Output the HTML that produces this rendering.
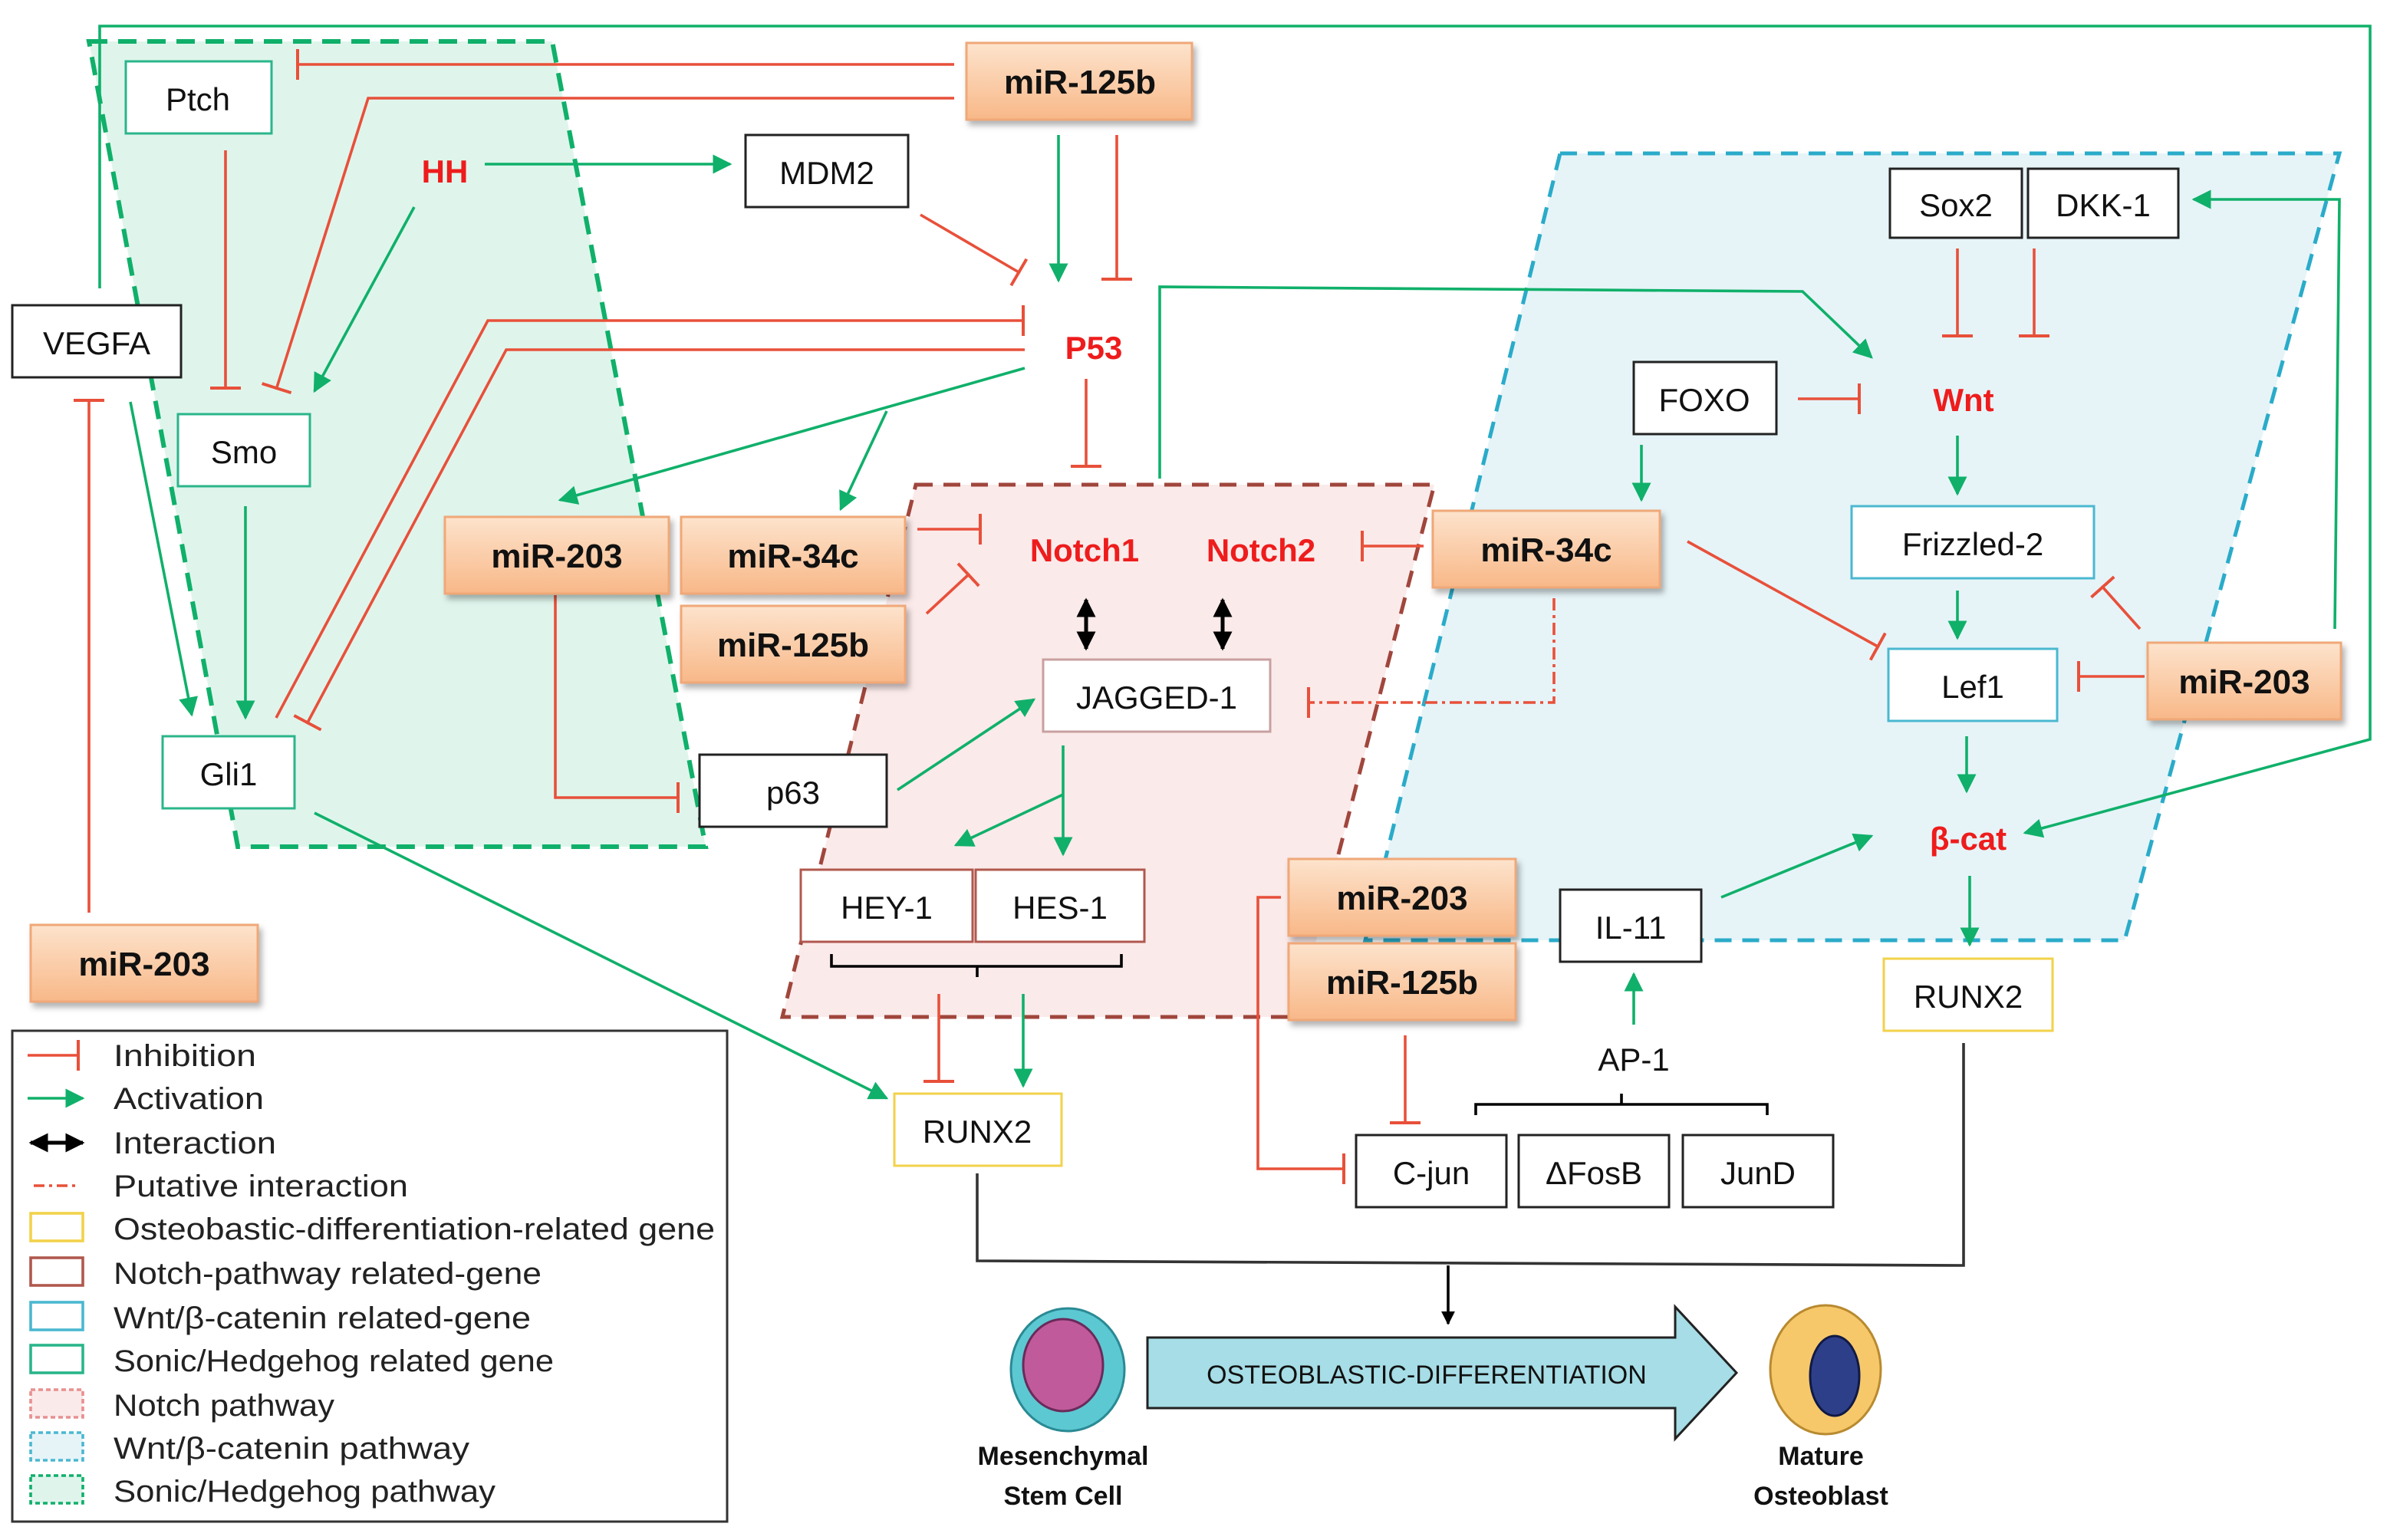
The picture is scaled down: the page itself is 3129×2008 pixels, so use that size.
<!DOCTYPE html>
<html><head><meta charset="utf-8"><style>html,body{margin:0;padding:0;background:#fff}svg{display:block}text{font-family:"Liberation Sans",sans-serif}</style></head><body>
<svg width="3129" height="2008" viewBox="0 0 1564.5 1004" xmlns="http://www.w3.org/2000/svg">
<defs>
<marker id="ga" viewBox="0 0 10 10" refX="9" refY="5" markerWidth="7" markerHeight="7" orient="auto"><path d="M0,0L10,5L0,10z" fill="#10b06a"/></marker>
<marker id="ri" viewBox="0 0 4 20" refX="2" refY="10" markerWidth="4" markerHeight="20" markerUnits="userSpaceOnUse" orient="auto"><rect x="0" y="0" width="2" height="20" fill="#e8503a"/></marker>
<marker id="ba" viewBox="0 0 10 10" refX="9" refY="5" markerWidth="5" markerHeight="5" orient="auto"><path d="M0,0L10,5L0,10z" fill="#000"/></marker>
<marker id="bs" viewBox="0 0 10 10" refX="1" refY="5" markerWidth="5" markerHeight="5" orient="auto"><path d="M10,0L0,5L10,10z" fill="#000"/></marker>
<linearGradient id="og" x1="0" y1="0" x2="0" y2="1"><stop offset="0" stop-color="#fde3cc"/><stop offset="1" stop-color="#f8b888"/></linearGradient>
<filter id="sh"><feDropShadow dx="2" dy="3" stdDeviation="2" flood-opacity="0.3"/></filter>
</defs>
<polygon points="58,27 360,27 460,552 155,552" fill="#dff5ec" stroke="#10b06a" stroke-width="3" stroke-dasharray="12,7"/>
<polygon points="597,316 935,316 845,663 510,663" fill="#fbeaea" stroke="#a0463c" stroke-width="2.5" stroke-dasharray="11,7"/>
<polygon points="1017,100 1525,100 1385,613 890,613" fill="#e6f4f8" stroke="#2aabc9" stroke-width="2.5" stroke-dasharray="11,7"/>

<g fill="none" stroke-width="1.8">
<g stroke="#10b06a" marker-end="url(#ga)">
<polyline points="65,188 65,17 1545,17 1545,482 1320,543"/>
<line x1="316" y1="107" x2="476" y2="107"/>
<line x1="270" y1="135" x2="205" y2="255"/>
<line x1="690" y1="88" x2="690" y2="183"/>
<line x1="85" y1="262" x2="125" y2="466"/>
<line x1="160" y1="330" x2="160" y2="468"/>
<line x1="668" y1="240" x2="365" y2="326"/>
<line x1="578" y1="268" x2="548" y2="332"/>
<line x1="205" y1="530" x2="578" y2="716"/>
<line x1="585" y1="515" x2="674" y2="456"/>
<line x1="693" y1="486" x2="693" y2="557"/>
<line x1="693" y1="518" x2="623" y2="551"/>
<line x1="667" y1="648" x2="667" y2="708"/>
<polyline points="756,312 756,187 1175,190 1220,233"/>
<line x1="1070" y1="290" x2="1070" y2="326"/>
<line x1="1276" y1="284" x2="1276" y2="322"/>
<line x1="1276" y1="385" x2="1276" y2="416"/>
<line x1="1282" y1="480" x2="1282" y2="516"/>
<line x1="1284" y1="571" x2="1284" y2="616"/>
<line x1="1122" y1="585" x2="1220" y2="545"/>
<line x1="1065" y1="668" x2="1065" y2="635"/>
<polyline points="1522,410 1525,130 1430,130"/>
</g>
<g stroke="#e8503a" marker-end="url(#ri)">
<line x1="622" y1="42" x2="193" y2="42"/>
<polyline points="622,64 240,64 180,254"/>
<line x1="147" y1="98" x2="147" y2="254"/>
<line x1="728" y1="88" x2="728" y2="183"/>
<line x1="600" y1="140" x2="665" y2="178"/>
<polyline points="180,468 318,209 668,209"/>
<polyline points="668,228 330,228 200,472"/>
<line x1="708" y1="247" x2="708" y2="305"/>
<line x1="598" y1="345" x2="640" y2="345"/>
<line x1="604" y1="400" x2="632" y2="374"/>
<polyline points="362,388 362,520 443,520"/>
<line x1="58" y1="595" x2="58" y2="260"/>
<line x1="928" y1="356" x2="887" y2="356"/>
<line x1="1172" y1="260" x2="1213" y2="260"/>
<line x1="1276" y1="162" x2="1276" y2="220"/>
<line x1="1326" y1="162" x2="1326" y2="220"/>
<line x1="1100" y1="353" x2="1225" y2="422"/>
<line x1="1395" y1="410" x2="1370" y2="382"/>
<line x1="1398" y1="441" x2="1354" y2="441"/>
<line x1="612" y1="648" x2="612" y2="706"/>
<polyline points="835,585 820,585 820,762 877,762"/>
<line x1="916" y1="675" x2="916" y2="733"/>
<polyline points="1013,390 1013,458 852,458" stroke-dasharray="8,3,2,3"/>
</g>
<g stroke="#000">
<line x1="708" y1="391" x2="708" y2="423" marker-end="url(#ba)" marker-start="url(#bs)" stroke-width="2.5"/>
<line x1="797" y1="391" x2="797" y2="423" marker-end="url(#ba)" marker-start="url(#bs)" stroke-width="2.5"/>
<polyline points="542,622 542,630 731,630 731,622"/><line x1="637" y1="630" x2="637" y2="637"/>
<polyline points="962,727 962,720 1152,720 1152,727"/><line x1="1057" y1="720" x2="1057" y2="713"/>
<polyline points="637,765 637,822 1280,825 1280,680" stroke="#333"/>
<line x1="944" y1="825" x2="944" y2="863" marker-end="url(#ba)"/>
</g>
</g>

<g font-size="21" text-anchor="middle" stroke-width="1.5">
<g fill="#fff">
<rect x="82" y="40" width="95" height="47" stroke="#2ab58a"/>
<rect x="8" y="199" width="110" height="47" stroke="#222"/>
<rect x="116" y="270" width="86" height="47" stroke="#2ab58a"/>
<rect x="106" y="480" width="86" height="47" stroke="#2ab58a"/>
<rect x="486" y="88" width="106" height="47" stroke="#222"/>
<rect x="456" y="492" width="122" height="47" stroke="#222"/>
<rect x="680" y="430" width="148" height="47" stroke="#c9a0a0"/>
<rect x="522" y="567" width="112" height="47" stroke="#b0584e"/>
<rect x="636" y="567" width="110" height="47" stroke="#b0584e"/>
<rect x="583" y="713" width="109" height="47" stroke="#f2d24a"/>
<rect x="1232" y="110" width="86" height="45" stroke="#222"/>
<rect x="1322" y="110" width="98" height="45" stroke="#222"/>
<rect x="1065" y="236" width="93" height="47" stroke="#222"/>
<rect x="1207" y="330" width="158" height="47" stroke="#4ab8d0"/>
<rect x="1231" y="423" width="110" height="47" stroke="#4ab8d0"/>
<rect x="1228" y="625" width="110" height="47" stroke="#f2d24a"/>
<rect x="1017" y="580" width="92" height="47" stroke="#222"/>
<rect x="884" y="740" width="98" height="47" stroke="#222"/>
<rect x="990" y="740" width="98" height="47" stroke="#222"/>
<rect x="1097" y="740" width="98" height="47" stroke="#222"/>
</g>
<g fill="#111">
<text x="129" y="72">Ptch</text><text x="63" y="231">VEGFA</text><text x="159" y="302">Smo</text><text x="149" y="512">Gli1</text>
<text x="539" y="120">MDM2</text><text x="517" y="524">p63</text><text x="754" y="462">JAGGED-1</text>
<text x="578" y="599">HEY-1</text><text x="691" y="599">HES-1</text><text x="637" y="745">RUNX2</text>
<text x="1275" y="141">Sox2</text><text x="1371" y="141">DKK-1</text><text x="1111" y="268">FOXO</text>
<text x="1286" y="362">Frizzled-2</text><text x="1286" y="455">Lef1</text><text x="1283" y="657">RUNX2</text>
<text x="1063" y="612">IL-11</text><text x="933" y="772">C-jun</text><text x="1039" y="772">ΔFosB</text><text x="1146" y="772">JunD</text>
<text x="1065" y="698">AP-1</text>
</g>
<g fill="url(#og)" stroke="#f0a878" filter="url(#sh)">
<rect x="630" y="28" width="147" height="50"/><rect x="290" y="337" width="146" height="50"/>
<rect x="444" y="337" width="146" height="50"/><rect x="444" y="395" width="146" height="50"/>
<rect x="934" y="333" width="148" height="50"/><rect x="1400" y="419" width="126" height="50"/>
<rect x="840" y="560" width="148" height="50"/><rect x="840" y="615" width="148" height="50"/>
<rect x="20" y="603" width="148" height="50"/>
</g>
<g fill="#111" font-weight="bold" font-size="22">
<text x="704" y="61">miR-125b</text><text x="363" y="370">miR-203</text><text x="517" y="370">miR-34c</text>
<text x="517" y="428">miR-125b</text><text x="1008" y="366">miR-34c</text><text x="1463" y="452">miR-203</text>
<text x="914" y="593">miR-203</text><text x="914" y="648">miR-125b</text><text x="94" y="636">miR-203</text>
</g>
<g fill="#ee1c1c" font-weight="bold" font-size="21">
<text x="290" y="119">HH</text><text x="713" y="234">P53</text><text x="707" y="366">Notch1</text>
<text x="822" y="366">Notch2</text><text x="1280" y="268">Wnt</text><text x="1283" y="554">β-cat</text>
</g>
</g>

<polygon points="748,872 1092,872 1092,852 1132,895 1092,938 1092,918 748,918" fill="#a6dde6" stroke="#222" stroke-width="1.5"/>
<text x="930" y="902" font-size="17" text-anchor="middle" fill="#111">OSTEOBLASTIC-DIFFERENTIATION</text>
<ellipse cx="696" cy="893" rx="37" ry="40" fill="#5cc8d2" stroke="#2a8a94" stroke-width="1.5"/>
<ellipse cx="693" cy="890" rx="26" ry="30" fill="#c05a9a" stroke="#6a2a5a" stroke-width="1.5"/>
<ellipse cx="1190" cy="893" rx="36" ry="42" fill="#f7c86a" stroke="#b88a30" stroke-width="1.5"/>
<ellipse cx="1196" cy="897" rx="16" ry="26" fill="#2e3f8a" stroke="#111a44" stroke-width="1.5"/>
<g font-size="17" font-weight="bold" text-anchor="middle" fill="#111">
<text x="693" y="955">Mesenchymal</text><text x="693" y="981">Stem Cell</text>
<text x="1187" y="955">Mature</text><text x="1187" y="981">Osteoblast</text>
</g>

<rect x="8" y="672" width="466" height="320" fill="#fff" stroke="#333" stroke-width="1.5"/>
<g fill="none" stroke-width="1.8">
<line x1="18" y1="688" x2="52" y2="688" stroke="#e8503a" marker-end="url(#ri)"/>
<line x1="18" y1="716" x2="54" y2="716" stroke="#10b06a" marker-end="url(#ga)"/>
<line x1="20" y1="745" x2="54" y2="745" stroke="#000" stroke-width="2.5" marker-end="url(#ba)" marker-start="url(#bs)"/>
<line x1="22" y1="773" x2="52" y2="773" stroke="#e8503a" stroke-dasharray="7,3,2,3"/>
<rect x="20" y="791" width="34" height="18" stroke="#f2d24a"/>
<rect x="20" y="820" width="34" height="18" stroke="#b0584e"/>
<rect x="20" y="849" width="34" height="18" stroke="#4ab8d0"/>
<rect x="20" y="877" width="34" height="18" stroke="#2ab58a"/>
<rect x="20" y="906" width="34" height="18" stroke="#e89090" fill="#fbeaea" stroke-dasharray="3,2"/>
<rect x="20" y="934" width="34" height="18" stroke="#4ab8d0" fill="#e6f4f8" stroke-dasharray="3,2"/>
<rect x="20" y="962" width="34" height="18" stroke="#10b06a" fill="#dff5ec" stroke-dasharray="3,2"/>
</g>
<g font-size="20" fill="#222" lengthAdjust="spacingAndGlyphs">
<text x="74" y="695" textLength="93" lengthAdjust="spacingAndGlyphs">Inhibition</text>
<text x="74" y="723" textLength="98" lengthAdjust="spacingAndGlyphs">Activation</text>
<text x="74" y="752" textLength="106" lengthAdjust="spacingAndGlyphs">Interaction</text>
<text x="74" y="780" textLength="192" lengthAdjust="spacingAndGlyphs">Putative interaction</text>
<text x="74" y="808" textLength="392" lengthAdjust="spacingAndGlyphs">Osteobastic-differentiation-related gene</text>
<text x="74" y="837" textLength="279" lengthAdjust="spacingAndGlyphs">Notch-pathway related-gene</text>
<text x="74" y="866" textLength="272" lengthAdjust="spacingAndGlyphs">Wnt/β-catenin related-gene</text>
<text x="74" y="894" textLength="287" lengthAdjust="spacingAndGlyphs">Sonic/Hedgehog related gene</text>
<text x="74" y="923" textLength="144" lengthAdjust="spacingAndGlyphs">Notch pathway</text>
<text x="74" y="951" textLength="232" lengthAdjust="spacingAndGlyphs">Wnt/β-catenin pathway</text>
<text x="74" y="979" textLength="249" lengthAdjust="spacingAndGlyphs">Sonic/Hedgehog pathway</text>
</g>
</svg>
</body></html>
